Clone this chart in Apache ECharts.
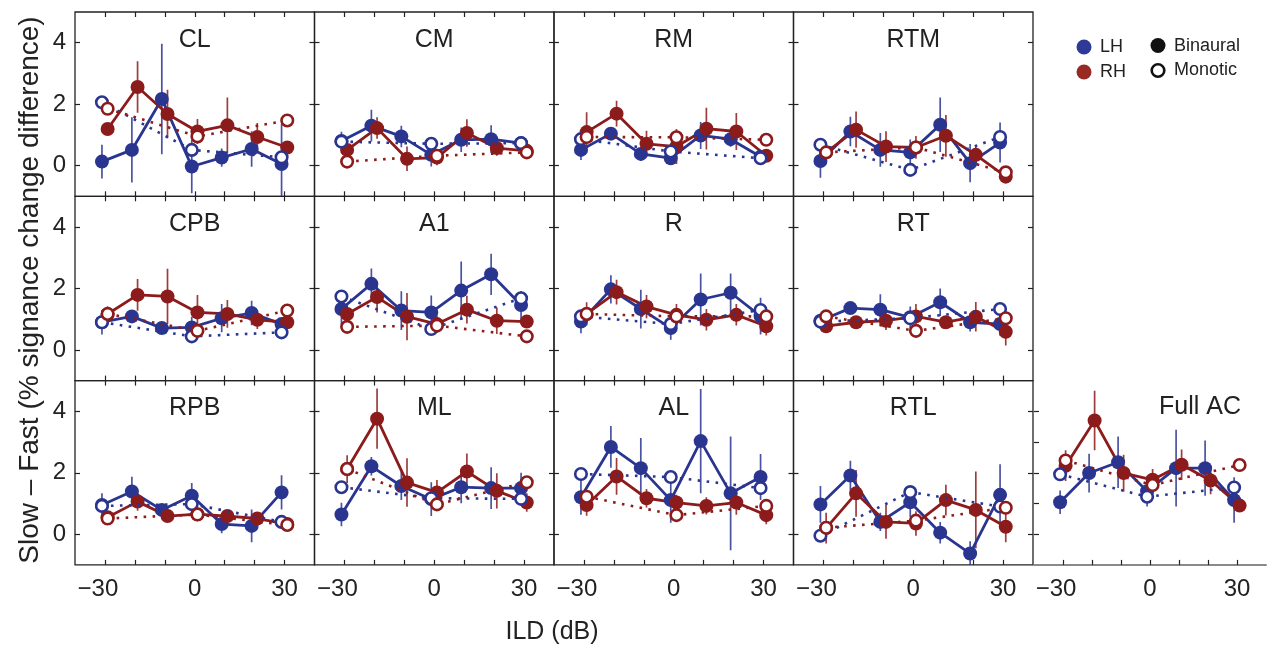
<!DOCTYPE html>
<html>
<head>
<meta charset="utf-8">
<script src="https://cdn.jsdelivr.net/npm/echarts@6/dist/echarts.min.js"></script>
<style>
  html, body { margin: 0; padding: 0; background: #fff; }
  #chart { width: 1271px; height: 648px; }
</style>
</head>
<body>
<div id="chart"></div>
<script>
// ILD levels (dB) for binaural conditions, and the three monotic conditions
const ILD = [-30, -20, -10, 0, 10, 20, 30];
const MONO_ILD = [-30, 0, 30];
const X_TICKS = [-30, -20, -10, 0, 10, 20, 30];
const X_LABELS = [-30, 0, 30];
const Y_LABELS = [0, 2, 4];
const FULL_Y_TICKS = [0, 1, 2, 3, 4];

const REGIONS = ['CL', 'CM', 'RM', 'RTM', 'CPB', 'A1', 'R', 'RT', 'RPB', 'ML', 'AL', 'RTL', 'Full AC'];

// Slow − Fast difference, binaural stimuli, left hemisphere (rows follow REGIONS)
const LH_BIN = [
  [0.13, 0.51, 2.17, -0.03, 0.26, 0.54, 0.05],   // CL
  [0.80, 1.30, 0.95, 0.35, 0.84, 0.86, 0.73],    // CM
  [0.51, 1.04, 0.38, 0.24, 0.98, 0.86, 0.29],    // RM
  [0.15, 1.11, 0.51, 0.43, 1.33, 0.08, 0.75],    // RTM
  [0.90, 1.09, 0.71, 0.73, 1.03, 1.20, 0.84],    // CPB
  [1.33, 2.15, 1.28, 1.22, 1.93, 2.46, 1.46],    // A1
  [0.92, 1.97, 1.33, 0.71, 1.64, 1.86, 1.10],    // R
  [0.95, 1.36, 1.31, 1.06, 1.55, 0.90, 0.84],    // RT
  [0.95, 1.39, 0.79, 1.25, 0.33, 0.27, 1.36],    // RPB
  [0.64, 2.21, 1.57, 1.14, 1.53, 1.50, 1.50],    // ML
  [1.20, 2.84, 2.15, 1.11, 3.03, 1.33, 1.86],    // AL
  [0.97, 1.91, 0.40, 1.04, 0.05, -0.63, 1.28],   // RTL
  [1.04, 1.99, 2.34, 1.40, 2.15, 2.15, 1.11]     // Full AC
];
// standard error of LH binaural values
const LH_ERR = [
  [0.55, 1.06, 1.80, 0.87, 0.30, 0.58, 1.30],
  [0.30, 0.52, 0.35, 0.38, 0.40, 0.45, 0.10],
  [0.33, 0.20, 0.22, 0.20, 0.44, 0.25, 0.10],
  [0.55, 0.48, 0.55, 0.42, 0.89, 0.62, 0.65],
  [0.40, 0.15, 0.10, 0.35, 0.46, 0.40, 0.20],
  [0.50, 0.50, 0.63, 0.55, 0.95, 0.67, 0.46],
  [0.38, 0.46, 0.63, 0.38, 0.85, 0.63, 0.60],
  [0.15, 0.15, 0.50, 0.35, 0.45, 0.30, 0.38],
  [0.38, 0.48, 0.15, 0.42, 0.30, 0.53, 0.56],
  [0.38, 0.30, 0.46, 0.55, 0.52, 0.68, 0.50],
  [0.57, 0.68, 0.98, 0.74, 1.70, 1.85, 0.75],
  [0.60, 0.48, 0.30, 0.48, 0.35, 0.40, 1.00],
  [0.38, 0.63, 0.84, 0.50, 1.25, 0.90, 0.74]
];
// binaural stimuli, right hemisphere
const RH_BIN = [
  [1.19, 2.56, 1.68, 1.11, 1.31, 0.93, 0.59],
  [0.51, 1.22, 0.22, 0.26, 1.06, 0.57, 0.48],
  [1.09, 1.69, 0.71, 0.62, 1.20, 1.11, 0.32],
  [0.43, 1.17, 0.62, 0.59, 0.97, 0.35, -0.36],
  [1.17, 1.79, 1.74, 1.22, 1.17, 0.98, 0.90],
  [1.17, 1.72, 1.08, 0.84, 1.31, 0.95, 0.92],
  [1.17, 1.88, 1.41, 1.14, 0.98, 1.14, 0.77],
  [0.77, 0.90, 0.95, 1.09, 0.90, 1.08, 0.59],
  [0.55, 1.06, 0.59, 0.65, 0.59, 0.51, 0.33],
  [2.12, 3.76, 1.68, 1.36, 2.04, 1.41, 1.03],
  [0.95, 1.88, 1.17, 1.03, 0.92, 1.03, 0.62],
  [0.20, 1.33, 0.40, 0.35, 1.11, 0.79, 0.24],
  [2.23, 3.70, 1.99, 1.77, 2.26, 1.75, 0.93]
];
// standard error of RH binaural values
const RH_ERR = [
  [0.10, 0.84, 0.79, 0.41, 0.91, 0.46, 0.10],
  [0.15, 0.35, 0.40, 0.25, 0.45, 0.25, 0.10],
  [0.65, 0.42, 0.42, 0.57, 0.68, 0.60, 0.20],
  [0.10, 0.59, 0.50, 0.37, 0.68, 0.30, 0.20],
  [0.25, 0.52, 0.90, 0.57, 0.45, 0.30, 0.10],
  [0.35, 0.50, 0.77, 0.28, 0.45, 0.43, 0.10],
  [0.38, 0.40, 0.38, 0.35, 0.35, 0.35, 0.30],
  [0.15, 0.15, 0.30, 0.40, 0.20, 0.48, 0.45],
  [0.10, 0.30, 0.15, 0.10, 0.15, 0.20, 0.10],
  [0.45, 0.98, 0.79, 0.40, 0.59, 0.57, 0.30],
  [0.35, 0.60, 0.30, 0.25, 0.28, 0.40, 0.30],
  [0.50, 0.76, 0.55, 0.40, 0.50, 1.25, 0.50],
  [0.50, 0.97, 0.60, 0.35, 0.50, 0.45, 0.10]
];
// monotic stimuli (ILD −30, 0, 30), left and right hemisphere
const LH_MONO = [
  [2.06, 0.51, 0.27], [0.78, 0.71, 0.73], [0.86, 0.46, 0.24], [0.68, -0.14, 0.93],
  [0.90, 0.44, 0.57], [1.74, 0.68, 1.68], [1.09, 0.84, 1.30], [0.92, 1.03, 1.33],
  [0.92, 0.98, 0.40], [1.53, 1.17, 1.15], [1.96, 1.86, 1.50], [-0.05, 1.37, 0.90],
  [1.95, 1.22, 1.52]
];
const RH_MONO = [
  [1.85, 0.95, 1.47], [0.13, 0.32, 0.43], [0.93, 0.92, 0.84], [0.43, 0.59, -0.22],
  [1.17, 0.62, 1.28], [0.75, 0.79, 0.44], [1.17, 1.09, 1.09], [1.09, 0.62, 1.03],
  [0.51, 0.64, 0.30], [2.12, 0.97, 1.69], [1.22, 0.62, 0.92], [0.21, 0.44, 0.86],
  [2.40, 1.60, 2.25]
];

// ---- styling / layout ----
const FONT = '"Liberation Sans", Arial, Helvetica, sans-serif';
const BLUE = '#2a3590';
const RED = '#8c1b1b';
const INK = '#222';
const LH_SHIFT = -1.0;   // small horizontal shift so the hemispheres don't overlap
const RH_SHIFT = 0.9;
const Y_MIN = -1, Y_MAX = 5;

function panelRect(i) {
  if (i < 12) {
    return { left: 75 + (i % 4) * 239.5, top: 12 + Math.floor(i / 4) * 184.3, width: 239.5, height: 184.3 };
  }
  return { left: 1034, top: 12 + 2 * 184.3, width: 232, height: 184.3 };
}

// negative tick labels use a true minus sign and sit a little left of their tick
const xLabelFmt = v => (v < 0 ? '{neg|\u2212' + Math.abs(v) + '}' : String(v));

const grids = [], xAxes = [], yAxes = [], series = [], graphics = [];

REGIONS.forEach((name, i) => {
  const r = panelRect(i);
  const isFull = i === 12;
  const row = isFull ? 2 : Math.floor(i / 4);
  const col = isFull ? 4 : i % 4;
  grids.push({
    left: r.left, top: r.top, width: r.width, height: r.height,
    show: !isFull, borderColor: INK, borderWidth: 1.3,
    backgroundColor: 'transparent', containLabel: false, outerBoundsMode: 'none'
  });

  const tickStyle = { color: INK, width: 1.2 };
  // bottom x axis
  xAxes.push({
    gridIndex: i, type: 'value', min: -40, max: 40, position: 'bottom',
    axisLine: { show: isFull, onZero: false, lineStyle: { color: '#8a8a8a', width: 2 } },
    axisTick: { show: true, inside: true, length: 5, customValues: X_TICKS, lineStyle: tickStyle },
    axisLabel: {
      show: row === 2, customValues: X_LABELS, formatter: xLabelFmt,
      fontSize: 24, fontFamily: FONT, color: INK, margin: 12,
      rich: { neg: { fontSize: 24, fontFamily: FONT, color: INK, padding: [0, 14, 0, 0] } }
    },
    splitLine: { show: false }
  });
  // top x axis (ticks only)
  xAxes.push({
    gridIndex: i, type: 'value', min: -40, max: 40, position: 'top', show: !isFull,
    axisLine: { show: false, onZero: false },
    axisTick: { show: true, inside: true, length: 5, customValues: X_TICKS, lineStyle: tickStyle },
    axisLabel: { show: false }, splitLine: { show: false }
  });
  // left y axis
  yAxes.push({
    gridIndex: i, type: 'value', min: Y_MIN, max: Y_MAX, position: 'left',
    axisLine: { show: false, onZero: false },
    axisTick: { show: true, inside: true, length: 5, customValues: isFull ? FULL_Y_TICKS : Y_LABELS, lineStyle: tickStyle },
    axisLabel: {
      show: col === 0, customValues: Y_LABELS,
      fontSize: 24, fontFamily: FONT, color: INK, margin: 9
    },
    splitLine: { show: false }
  });
  // right y axis (ticks only)
  yAxes.push({
    gridIndex: i, type: 'value', min: Y_MIN, max: Y_MAX, position: 'right', show: !isFull,
    axisLine: { show: false, onZero: false },
    axisTick: { show: true, inside: true, length: 5, customValues: Y_LABELS, lineStyle: tickStyle },
    axisLabel: { show: false }, splitLine: { show: false }
  });

  const xi = 2 * i, yi = 2 * i;

  const errSeries = (mean, err, shift, color) => ({
    type: 'custom', xAxisIndex: xi, yAxisIndex: yi, clip: true, silent: true, z: 1,
    data: ILD.map((x, k) => [x + shift, mean[k] - err[k], mean[k] + err[k]]),
    encode: { x: 0, y: [1, 2] },
    renderItem: (params, api) => {
      const lo = Math.max(api.value(1), Y_MIN), hi = Math.min(api.value(2), Y_MAX);
      const a = api.coord([api.value(0), lo]);
      const b = api.coord([api.value(0), hi]);
      return {
        type: 'line',
        shape: { x1: a[0], y1: a[1], x2: b[0], y2: b[1] },
        style: { stroke: color, lineWidth: 1.7, opacity: 0.85 }
      };
    }
  });

  const binSeries = (mean, shift, color) => ({
    type: 'line', xAxisIndex: xi, yAxisIndex: yi, silent: true, z: 2,
    data: ILD.map((x, k) => [x + shift, mean[k]]),
    symbol: 'circle', symbolSize: 14, showSymbol: true,
    itemStyle: { color: color },
    lineStyle: { color: color, width: 2.8 },
    emphasis: { disabled: true }
  });

  const monoSeries = (vals, shift, color) => ({
    type: 'line', xAxisIndex: xi, yAxisIndex: yi, silent: true, z: 3,
    data: MONO_ILD.map((x, k) => [x + shift, vals[k]]),
    symbol: 'circle', symbolSize: 11.5, showSymbol: true,
    itemStyle: { color: '#fff', borderColor: color, borderWidth: 2.6 },
    lineStyle: { color: color, width: 2.6, type: [2.6, 6.4], cap: 'butt' },
    emphasis: { disabled: true }
  });

  series.push(errSeries(LH_BIN[i], LH_ERR[i], LH_SHIFT, BLUE));
  series.push(errSeries(RH_BIN[i], RH_ERR[i], RH_SHIFT, RED));
  series.push(binSeries(LH_BIN[i], LH_SHIFT, BLUE));
  series.push(binSeries(RH_BIN[i], RH_SHIFT, RED));
  series.push(monoSeries(LH_MONO[i], LH_SHIFT, BLUE));
  series.push(monoSeries(RH_MONO[i], RH_SHIFT, RED));

  // panel title
  graphics.push({
    type: 'text',
    x: isFull ? 1200 : r.left + r.width / 2,
    y: isFull ? r.top + 27 : r.top + 28,
    style: {
      text: name, fill: INK, font: '25px ' + FONT,
      align: 'center', verticalAlign: 'middle'
    },
    silent: true
  });
});

// axis titles
graphics.push({
  type: 'text', x: 30, y: 290, rotation: Math.PI / 2,
  style: { text: 'Slow \u2013 Fast (% signance change difference)', fill: INK, font: '28px ' + FONT, align: 'center', verticalAlign: 'middle' },
  silent: true
});
graphics.push({
  type: 'text', x: 552, y: 632,
  style: { text: 'ILD (dB)', fill: INK, font: '25px ' + FONT, align: 'center', verticalAlign: 'middle' },
  silent: true
});

// key: hemisphere colours and stimulus type
const keyFont = '18px ' + FONT;
graphics.push(
  { type: 'circle', shape: { cx: 1084, cy: 47, r: 7.5 }, style: { fill: '#2e3a96' }, silent: true },
  { type: 'text', x: 1100, y: 47, style: { text: 'LH', fill: INK, font: keyFont, verticalAlign: 'middle' }, silent: true },
  { type: 'circle', shape: { cx: 1084, cy: 72, r: 7.5 }, style: { fill: '#982a26' }, silent: true },
  { type: 'text', x: 1100, y: 72, style: { text: 'RH', fill: INK, font: keyFont, verticalAlign: 'middle' }, silent: true },
  { type: 'circle', shape: { cx: 1158, cy: 45.5, r: 7.5 }, style: { fill: '#111' }, silent: true },
  { type: 'text', x: 1174, y: 46, style: { text: 'Binaural', fill: INK, font: keyFont, verticalAlign: 'middle' }, silent: true },
  { type: 'circle', shape: { cx: 1158, cy: 70.5, r: 6.3 }, style: { fill: '#fff', stroke: '#111', lineWidth: 2.6 }, silent: true },
  { type: 'text', x: 1174, y: 70.5, style: { text: 'Monotic', fill: INK, font: keyFont, verticalAlign: 'middle' }, silent: true }
);

const chart = echarts.init(document.getElementById('chart'), null, { renderer: 'canvas' });
chart.setOption({
  animation: false,
  backgroundColor: '#fff',
  textStyle: { fontFamily: FONT },
  grid: grids,
  xAxis: xAxes,
  yAxis: yAxes,
  series: series,
  graphic: graphics
});
</script>
</body>
</html>
